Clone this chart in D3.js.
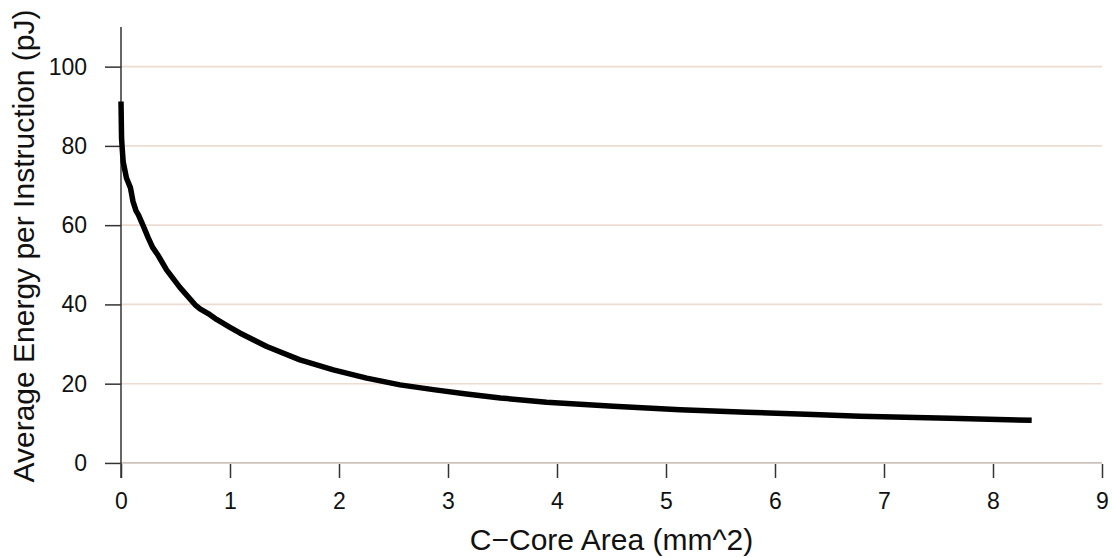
<!DOCTYPE html>
<html>
<head>
<meta charset="utf-8">
<script src="https://cdn.jsdelivr.net/npm/d3@7"></script>
<style>
  body { margin: 0; background: #fff; }
  svg { display: block; font-family: "Liberation Sans", Arial, sans-serif; }
</style>
</head>
<body>
<svg width="1112" height="558"></svg>
<script>
// Площадь C-ядра (мм^2) и средняя энергия на инструкцию (пДж)
const areas = [0, 0.005, 0.012, 0.02, 0.05, 0.087, 0.11, 0.138, 0.16, 0.204, 0.25, 0.29, 0.34, 0.418,
    0.54, 0.68, 0.725, 0.8, 0.877, 1.0, 1.09, 1.337, 1.642, 1.948, 2.254, 2.56, 2.865, 3.17,
    3.48, 3.905, 4.517, 5.13, 5.74, 6.35, 6.78, 7.6, 8.355];
const energy = [91.2, 82, 79, 76, 71.9, 69.4, 66, 63.6, 62.6, 59.8, 56.8, 54.4, 52.4, 48.7,
    44.3, 39.9, 38.9, 37.7, 36.2, 34.2, 32.8, 29.4, 26.0, 23.5, 21.4, 19.7, 18.5, 17.4,
    16.4, 15.3, 14.3, 13.4, 12.8, 12.2, 11.8, 11.3, 10.75];

const xTicks = [0, 1, 2, 3, 4, 5, 6, 7, 8, 9];
const yTicks = [0, 20, 40, 60, 80, 100];
const gridValues = [20, 40, 60, 80, 100];

const xLabel = "C\u2212Core Area (mm^2)";
const yLabel = "Average Energy per Instruction (pJ)";

function drawChart() {
    const svg = d3.select("svg");

    const scaleX = d3.scaleLinear().domain([0, 9]).range([121, 1102]);
    const scaleY = d3.scaleLinear().domain([-3.8, 110]).range([478, 27]);

    // сетка
    svg.append("g")
        .selectAll("line")
        .data(gridValues)
        .enter()
        .append("line")
        .attr("x1", scaleX(0))
        .attr("x2", scaleX(9))
        .attr("y1", d => scaleY(d))
        .attr("y2", d => scaleY(d))
        .attr("stroke", "#ecdcd2")
        .attr("stroke-width", 1.6);

    // нулевая линия
    svg.append("line")
        .attr("x1", scaleX(0))
        .attr("x2", scaleX(9))
        .attr("y1", scaleY(0))
        .attr("y2", scaleY(0))
        .attr("stroke", "#cbc2bc")
        .attr("stroke-width", 1.8);

    // ось Y
    const axisY = d3.axisLeft(scaleY)
        .tickValues(yTicks)
        .tickSize(16)
        .tickPadding(18)
        .tickFormat(d3.format("d"));

    const gY = svg.append("g")
        .attr("transform", `translate(${scaleX(0)}, 0)`)
        .call(axisY);
    gY.select(".domain").remove();
    gY.selectAll("line").attr("stroke", "#333").attr("stroke-width", 1.5);
    gY.selectAll("text").attr("fill", "#111").style("font-size", "23px")
        .style("font-family", "Liberation Sans, Arial, sans-serif");

    svg.append("line")
        .attr("x1", scaleX(0))
        .attr("x2", scaleX(0))
        .attr("y1", scaleY(110))
        .attr("y2", scaleY(-3.8))
        .attr("stroke", "#333")
        .attr("stroke-width", 1.5);

    // ось X
    const axisX = d3.axisBottom(scaleX)
        .tickValues(xTicks)
        .tickSize(14)
        .tickPadding(15)
        .tickFormat(d3.format("d"));

    const gX = svg.append("g")
        .attr("transform", "translate(0, 464)")
        .call(axisX);
    gX.select(".domain").remove();
    gX.selectAll("line").attr("stroke", "#333").attr("stroke-width", 1.5);
    gX.selectAll("text").attr("fill", "#111").style("font-size", "23px")
        .style("font-family", "Liberation Sans, Arial, sans-serif");

    // кривая
    const points = areas.map((a, i) => ({ x: a, y: energy[i] }));
    const line = d3.line()
        .x(d => scaleX(d.x))
        .y(d => scaleY(d.y));

    svg.append("path")
        .datum(points)
        .attr("fill", "none")
        .attr("stroke", "#000")
        .attr("stroke-width", 5.5)
        .attr("stroke-linejoin", "round")
        .attr("d", line);

    // подписи осей
    svg.append("text")
        .attr("x", (scaleX(0) + scaleX(9)) / 2)
        .attr("y", 550)
        .attr("text-anchor", "middle")
        .style("font-size", "30px")
        .attr("fill", "#111")
        .text(xLabel);

    svg.append("text")
        .attr("transform", "translate(34, 246) rotate(-90)")
        .attr("text-anchor", "middle")
        .style("font-size", "30px")
        .attr("fill", "#111")
        .text(yLabel);
}

drawChart();
</script>
</body>
</html>
